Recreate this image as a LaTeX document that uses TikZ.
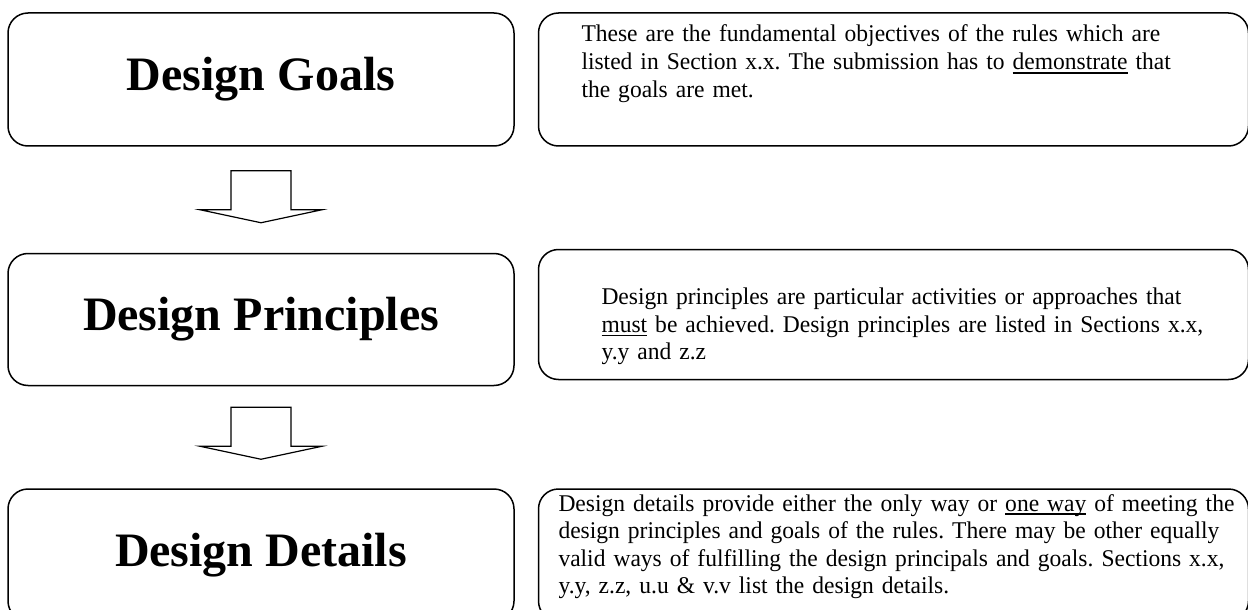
\documentclass[tikz,border=0pt]{standalone}
\usepackage{fontspec}
\setmainfont{Liberation Serif}
\newfontfamily\bodyfont{Liberation Serif}[FakeStretch=0.98]
\usetikzlibrary{positioning}
\newcommand{\undl}[1]{\leavevmode\setbox0=\hbox{#1}\rlap{\rule[-2pt]{\wd0}{0.8pt}}\box0\relax}
\newcommand{\descindent}[1]{\frenchspacing\leftskip=#1\relax}
% hollow down arrow hanging from coordinate #1, its point is (#1tip)
\newcommand{\blockarrow}[1]{\draw[arrowline] (#1) ++(-15pt,0) -- ++(30pt,0)
  -- ++(0,-19.5pt) -- ++(15.5pt,0) -- ++(-30.5pt,-6.5pt) coordinate (#1tip)
  -- ++(-30.5pt,6.5pt) -- ++(15.5pt,0) -- cycle;}

\begin{document}
\begin{tikzpicture}[node distance=12pt]
  \tikzstyle{titlebox}=[draw,line width=0.75pt,rounded corners=10pt,
    minimum width=253pt,minimum height=66pt,inner sep=0pt,
    font=\fontsize{24}{28}\selectfont\bfseries]
  \tikzstyle{descbox}=[draw,line width=0.75pt,rounded corners=10pt,
    text width=355pt,inner sep=0pt,align=left,
    font=\bodyfont\fontsize{12}{13.8}\selectfont]
  \tikzstyle{arrowline}=[line width=0.6pt,line join=miter]
  \path[use as bounding box,clip] (0,0) rectangle (624pt,-305pt);
  % left column
  \node[titlebox,minimum height=66.5pt] (goals) at (130.5pt,-39.75pt) {Design Goals};
  \coordinate[below=12pt of goals] (goalsarr);
  \blockarrow{goalsarr}
  \node[titlebox,below=15pt of goalsarrtip] (princ) {Design Principles};
  \coordinate[below=10.5pt of princ] (princarr);
  \blockarrow{princarr}
  \node[titlebox,below=14.5pt of princarrtip] (details) {Design Details};
  % right column
  \node[descbox,right=11.5pt of goals,text height=14.5pt,text depth=52pt] (goalsdesc)
    {\descindent{21.5pt}These are the fundamental objectives of the rules which are\\
     listed in Section x.x. The submission has to \undl{demonstrate} that\\
     the goals are met.\par};
  \node[descbox,right=11.5pt of princ,yshift=2.5pt,text height=27.5pt,text depth=37.5pt] (princdesc)
    {\descindent{31.5pt}Design principles are particular activities or approaches that\\
     \undl{must} be achieved. Design principles are listed in Sections x.x,\\
     y.y and z.z\par};
  \node[descbox,right=11.5pt of details,text height=11pt,text depth=55pt] (detailsdesc)
    {\descindent{10pt}Design details provide either the only way or \undl{one way} of meeting the\\
     design principles and goals of the rules. There may be other equally\\
     valid ways of fulfilling the design principals and goals. Sections x.x,\\
     y.y, z.z, u.u \& v.v list the design details.\par};
\end{tikzpicture}
\end{document}
